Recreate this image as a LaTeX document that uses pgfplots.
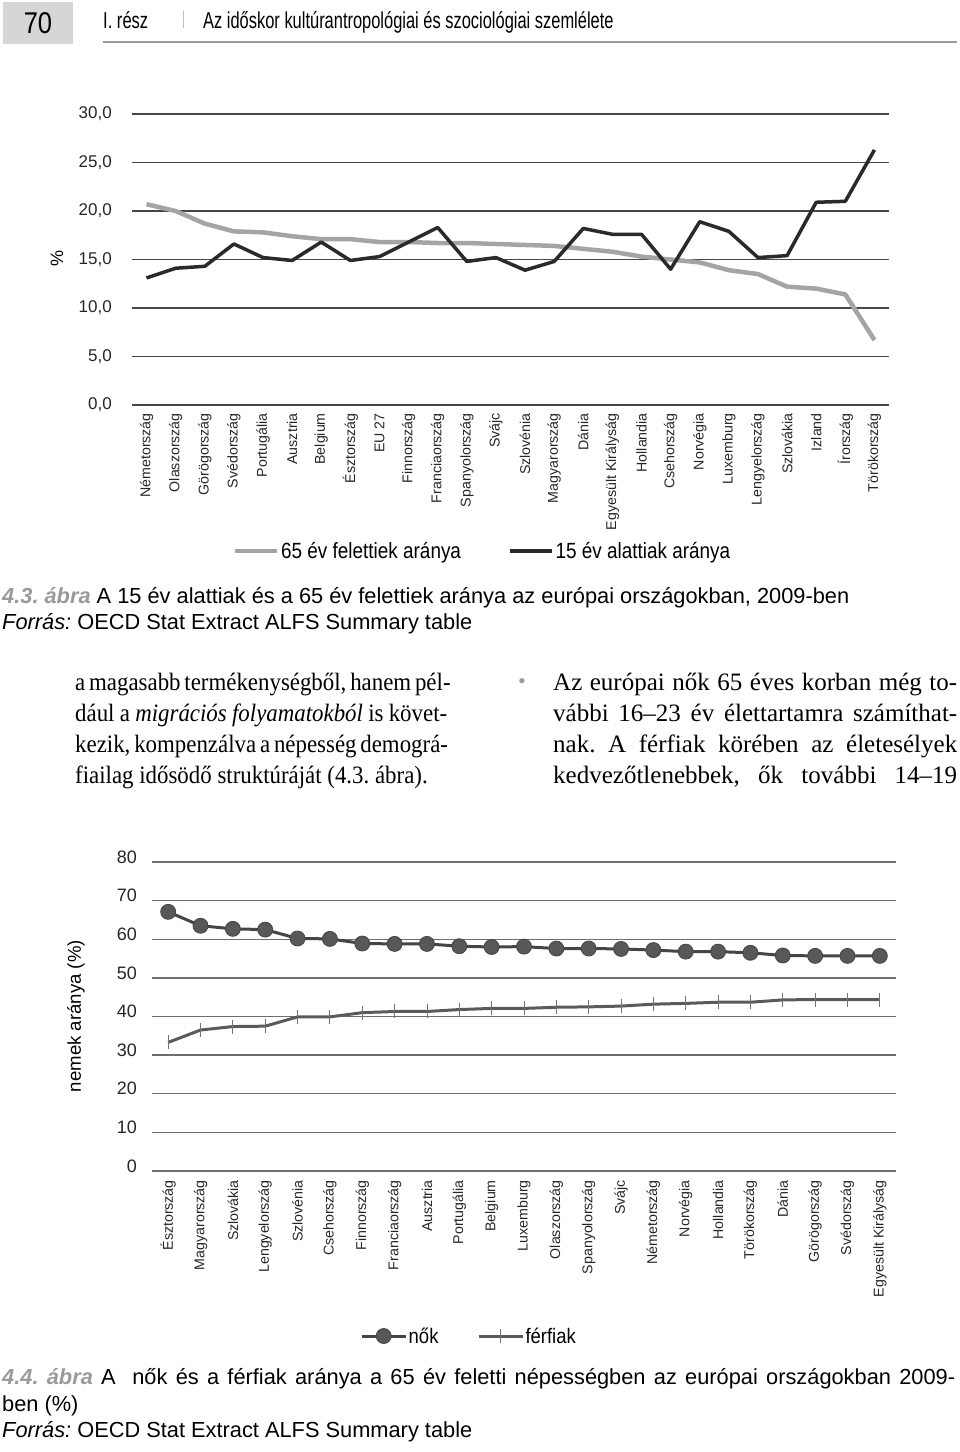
\documentclass[border=0pt]{standalone}
\usepackage{fontspec}
\setmainfont{Liberation Sans}
\newfontfamily\bodyserif{Liberation Serif}
\usepackage{graphicx}
\usepackage{pgfplots}
\usepackage{pgfplotstable}
\pgfplotsset{compat=1.18}
\definecolor{hdrgray}{HTML}{D6D6D6}
\definecolor{capgray}{HTML}{9A9A9A}
\definecolor{gridA}{HTML}{474747}
\definecolor{gridB}{HTML}{6E6E6E}
\definecolor{oldgray}{HTML}{A4A4A4}
\definecolor{youngblk}{HTML}{2A2A2A}
\definecolor{nokc}{HTML}{454545}
\definecolor{ferfc}{HTML}{5A5A5A}

\pgfplotstableread{
idx old young
0 20.7 13.1
1 20.0 14.1
2 18.7 14.3
3 17.9 16.6
4 17.8 15.2
5 17.4 14.9
6 17.1 16.8
7 17.1 14.9
8 16.8 15.3
9 16.8 16.8
10 16.7 18.3
11 16.7 14.8
12 16.6 15.2
13 16.5 13.9
14 16.4 14.8
15 16.1 18.2
16 15.8 17.6
17 15.3 17.6
18 15.0 14.0
19 14.7 18.9
20 13.9 17.9
21 13.5 15.2
22 12.2 15.4
23 12.0 20.9
24 11.4 21.0
25 6.7 26.3
}\agetable

\pgfplotstableread{
idx nok ferfi
0 67.1 33.3
1 63.5 36.5
2 62.7 37.4
3 62.5 37.5
4 60.2 39.9
5 60.1 39.9
6 58.9 41.0
7 58.8 41.3
8 58.8 41.3
9 58.2 41.8
10 58.0 42.1
11 58.1 42.1
12 57.6 42.4
13 57.6 42.5
14 57.5 42.7
15 57.2 43.2
16 56.8 43.4
17 56.8 43.7
18 56.5 43.7
19 55.8 44.3
20 55.7 44.4
21 55.7 44.4
22 55.7 44.4
}\sextable

\newcommand{\fs}[1]{\fontsize{#1}{#1}\selectfont}
\newcommand{\jl}[3]{\scalebox{#1}[1]{\makebox[#2][s]{#3}}}

\begin{document}
\frenchspacing
\begin{tikzpicture}
\path[use as bounding box] (0pt,0pt) rectangle (960pt,-1452pt);

\begin{scope}[x=1pt,y=-1pt]
% header
\fill[hdrgray] (3,2) rectangle (73,44);
\node[anchor=center, inner sep=0] at (38,23) {\fs{30}\scalebox{0.85}[1]{70}};
\node[anchor=base west, inner sep=0] at (103,28) {\fs{23}\scalebox{0.72}[1]{I. rész}};
\draw[black!25, line width=1pt] (183,11) -- (183,28);
\node[anchor=base west, inner sep=0] at (203,28) {\fs{23}\scalebox{0.715}[1]{Az időskor kultúrantropológiai és szociológiai szemlélete}};
\draw[black!40, line width=1.5pt] (103,42) -- (957,42);

% caption 4.3
\node[anchor=base west, inner sep=0] at (2,603) {\fs{21.8}\frenchspacing{\color{capgray}\bfseries\itshape 4.3. ábra} A 15 év alattiak és a 65 év felettiek aránya az európai országokban, 2009-ben};
\node[anchor=base west, inner sep=0] at (2,629) {\fs{21.8}\frenchspacing\textit{Forrás:} OECD Stat Extract ALFS Summary table};

% body text, left column
\node[anchor=base west, inner sep=0] at (75,690) {\bodyserif\fs{25}\frenchspacing\jl{0.915}{406.6pt}{a magasabb termékenységből, hanem pél-}};
\node[anchor=base west, inner sep=0] at (75,721) {\bodyserif\fs{25}\frenchspacing\jl{0.915}{406.6pt}{dául a \textit{migrációs folyamatokból} is követ-}};
\node[anchor=base west, inner sep=0] at (75,752) {\bodyserif\fs{25}\frenchspacing\jl{0.915}{406.6pt}{kezik, kompenzálva a népesség demográ-}};
\node[anchor=base west, inner sep=0] at (75,783) {\bodyserif\fs{25}\frenchspacing\scalebox{0.915}[1]{fiailag idősödő struktúráját (4.3. ábra).}};
% right column
\node[anchor=base west, inner sep=0] at (518,688) {\bodyserif\fs{22}\color{capgray}•};
\node[anchor=base west, inner sep=0] at (553,690) {\bodyserif\fs{25}\frenchspacing\jl{1}{404pt}{Az európai nők 65 éves korban még to-}};
\node[anchor=base west, inner sep=0] at (553,721) {\bodyserif\fs{25}\frenchspacing\jl{1}{404pt}{vábbi 16–23 év élettartamra számíthat-}};
\node[anchor=base west, inner sep=0] at (553,752) {\bodyserif\fs{25}\frenchspacing\jl{1}{404pt}{nak. A férfiak körében az életesélyek}};
\node[anchor=base west, inner sep=0] at (553,783) {\bodyserif\fs{25}\frenchspacing\jl{1}{404pt}{kedvezőtlenebbek, ők további 14–19}};

% caption 4.4
\node[anchor=base west, inner sep=0] at (2,1384) {\fs{21.8}\frenchspacing\makebox[953pt][s]{{\color{capgray}\bfseries\itshape 4.4. ábra} A\ \ nők és a férfiak aránya a 65 év feletti népességben az európai országokban 2009-}};
\node[anchor=base west, inner sep=0] at (2,1411) {\fs{21.8}ben (\%)};
\node[anchor=base west, inner sep=0] at (2,1437) {\fs{21.8}\frenchspacing\textit{Forrás:} OECD Stat Extract ALFS Summary table};
\end{scope}

% ---------- chart 1 ----------
\begin{axis}[
  at={(132pt,-405pt)}, anchor=south west,
  scale only axis, width=757pt, height=291pt,
  xmin=-0.5, xmax=25.5, ymin=0, ymax=30,
  axis line style={draw=none},
  major tick length=0pt,
  ymajorgrids, grid style={gridA, line width=1.3pt},
  ytick={0,5,...,30},
  xtick={0,...,25},
  xticklabels={Németország,Olaszország,Görögország,Svédország,Portugália,Ausztria,Belgium,Észtország,EU 27,Finnország,Franciaország,Spanyolország,Svájc,Szlovénia,Magyarország,Dánia,Egyesült Királyság,Hollandia,Csehország,Norvégia,Luxemburg,Lengyelország,Szlovákia,Izland,Írország,Törökország},
  xticklabel style={rotate=90, anchor=east, inner sep=0pt, font=\fs{14.2}, text=black!85},
  xticklabel shift=8pt,
  yticklabel style={inner sep=0pt, anchor=east, font=\fs{17}, text=black!85,
    /pgf/number format/.cd, fixed, fixed zerofill, precision=1, use comma, assume math mode=true},
  yticklabel shift=20pt,
  ylabel={\%},
  every axis y label/.style={at={(axis description cs:-0.099,0.505)}, rotate=90, anchor=center, font=\fs{18}},
  legend columns=2,
  legend style={at={(0.1334,-0.5017)}, anchor=west, draw=none, fill=none, inner sep=0pt,
    nodes={inner sep=1.5pt}, font=\fs{22},
    /tikz/every even column/.append style={column sep=46pt}},
  legend image code/.code={\draw[#1] (0pt,0pt) -- (42pt,0pt);},
  clip=false
]
\addplot[oldgray, line width=4.5pt, line join=round] table[x=idx, y=old] {\agetable};
\addlegendentry{\scalebox{0.86}[1]{65 év felettiek aránya}}
\addplot[youngblk, line width=3.5pt, line join=round] table[x=idx, y=young] {\agetable};
\addlegendentry{\scalebox{0.86}[1]{15 év alattiak aránya}}
\end{axis}

% ---------- chart 2 ----------
\begin{axis}[
  at={(152pt,-1171pt)}, anchor=south west,
  scale only axis, width=744pt, height=309pt,
  xmin=-0.5, xmax=22.5, ymin=0, ymax=80,
  axis line style={draw=none},
  major tick length=0pt,
  ymajorgrids, grid style={gridB, line width=1.3pt},
  ytick={0,10,...,80},
  xtick={0,...,22},
  xticklabels={Észtország,Magyarország,Szlovákia,Lengyelország,Szlovénia,Csehország,Finnország,Franciaország,Ausztria,Portugália,Belgium,Luxemburg,Olaszország,Spanyolország,Svájc,Németország,Norvégia,Hollandia,Törökország,Dánia,Görögország,Svédország,Egyesült Királyság},
  xticklabel style={rotate=90, anchor=east, inner sep=0pt, font=\fs{14.2}, text=black!85},
  xticklabel shift=9pt,
  yticklabel style={inner sep=0pt, anchor=east, font=\fs{18}, text=black!85, yshift=5pt,
    /pgf/number format/assume math mode=true},
  yticklabel shift=15pt,
  ylabel={nemek aránya (\%)},
  every axis y label/.style={at={(axis description cs:-0.1022,0.5016)}, rotate=90, anchor=center, font=\fs{18.6}},
  legend columns=2,
  legend style={at={(0.2796,-0.534)}, anchor=west, draw=none, fill=none, inner sep=0pt,
    nodes={inner sep=1.5pt}, font=\fs{21},
    /tikz/every even column/.append style={column sep=37pt}},
  legend image code/.code={\draw[mark repeat=2, mark phase=2, #1] plot coordinates {(0pt,0pt) (22pt,0pt) (44pt,0pt)};},
  clip=false
]
\addplot[nokc, line width=3pt, mark=*, mark size=7.5pt, mark options={fill=nokc!90, draw=nokc, line width=0.8pt}] table[x=idx, y=nok] {\sextable};
\addlegendentry{\scalebox{0.88}[1]{nők}}
\addplot[ferfc, line width=3pt, mark=|, mark size=7pt, mark options={draw=black!55, line width=0.9pt}] table[x=idx, y=ferfi] {\sextable};
\addlegendentry{\scalebox{0.88}[1]{férfiak}}
\end{axis}
\end{tikzpicture}
\end{document}
